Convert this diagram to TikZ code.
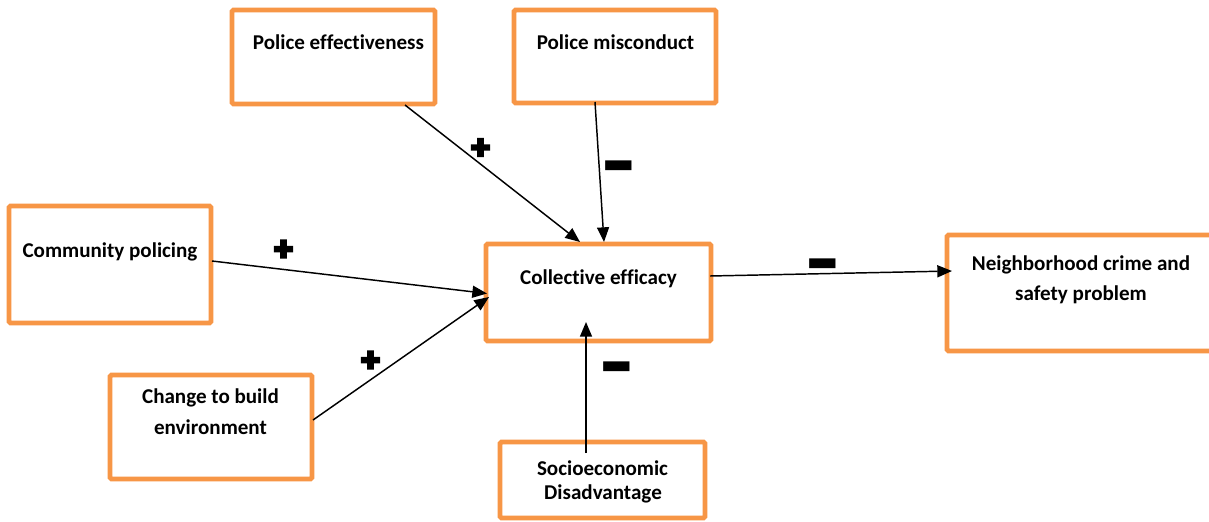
\documentclass[tikz,border=0pt]{standalone}
\usepackage{fontspec}
\usepackage{graphicx}
\setmainfont{Carlito}[Ligatures=NoCommon]
\newfontfamily\signfont[FakeBold=14]{DejaVu Sans Bold}
\usetikzlibrary{arrows.meta}
\definecolor{boxorange}{HTML}{F79646}
% one drawing unit is 0.75pt
\newcommand{\px}{0.75pt}
\tikzset{
  box/.style={draw=boxorange, line width=3.6pt, rounded corners=1.2pt, fill=white,
              inner sep=0pt, outer sep=0pt},
  lbl/.style={anchor=base, inner sep=0pt, font=\fontsize{15.8pt}{18pt}\selectfont\bfseries},
  arr/.style={draw=black, line width=1.1pt, -{Triangle[length=11pt,width=9pt]}},
  plus/.style={inner sep=0pt, font=\fontsize{19pt}{20pt}\signfont},
  minus/.style={inner sep=0pt, font=\fontsize{20pt}{20pt}\selectfont\bfseries}
}
\newcommand{\bigminus}{\scalebox{1.35}[4.2]{—}}
\begin{document}
\begin{tikzpicture}[x=0.75pt,y=-0.75pt]
  \useasboundingbox[fill=white] (0,0) rectangle (1209,521);

  % boxes
  \node[box, minimum width=203*\px, minimum height=94*\px]  (pe) at (333.5,57) {};
  \node[box, minimum width=202*\px, minimum height=93*\px]  (pm) at (615,56.5) {};
  \node[box, minimum width=202*\px, minimum height=117*\px] (cp) at (110,264.5) {};
  \node[box, minimum width=202*\px, minimum height=104*\px] (cb) at (211,427) {};
  \node[box, minimum width=225*\px, minimum height=97*\px]  (ce) at (598.5,292.5) {};
  \node[box, minimum width=205*\px, minimum height=76*\px]  (sd) at (602.5,480) {};
  \node[box, minimum width=268*\px, minimum height=116*\px] (nc) at (1081,293) {};

  % box texts
  \node[lbl] (pe-t)  at (338.5,49)  {Police effectiveness};
  \node[lbl] (pm-t)  at (615.5,49)  {Police misconduct};
  \node[lbl] (cp-t)  at (110,257)   {Community policing};
  \node[lbl] (cb-t1) at (210.5,403) {Change to build};
  \node[lbl] (cb-t2) at (210.5,434) {environment};
  \node[lbl] (ce-t)  at (598.5,284) {Collective efficacy};
  \node[lbl] (nc-t1) at (1081,270.5){Neighborhood crime and};
  \node[lbl] (nc-t2) at (1081,300)  {safety problem};
  \node[lbl] (sd-t1) at (602.5,475) {Socioeconomic};
  \node[lbl] (sd-t2) at (603,499)   {Disadvantage};

  % connector end points on the box borders
  \coordinate (pe-o) at (405,105);
  \coordinate (pe-i) at (580,242);
  \coordinate (pm-o) at (595,102);
  \coordinate (pm-i) at (604,242);
  \coordinate (cp-o) at (212,261);
  \coordinate (cp-i) at (487,293.5);
  \coordinate (cb-o) at (313,420);
  \coordinate (cb-i) at (489,297);
  \coordinate (ce-o) at (710,276);
  \coordinate (nc-i) at (952,271);
  \coordinate (sd-o) at (586,453);
  \coordinate (sd-i) at (586,322);

  % connectors
  \draw[arr] (pe-o) -- (pe-i);
  \draw[arr] (pm-o) -- (pm-i);
  \draw[arr] (cp-o) -- (cp-i);
  \draw[arr] (cb-o) -- (cb-i);
  \draw[arr] (ce-o) -- (nc-i);
  \draw[arr] (sd-o) -- (sd-i);

  % signs of the effects
  \node[plus]  (s1) at (480.5,147.5) {+};
  \node[minus] (s2) at (619,179)     {\bigminus};
  \node[plus]  (s3) at (283.5,249)   {+};
  \node[plus]  (s4) at (370.5,360)   {+};
  \node[minus] (s5) at (823,277.5)   {\bigminus};
  \node[minus] (s6) at (616.5,380)   {\bigminus};
\end{tikzpicture}
\end{document}
